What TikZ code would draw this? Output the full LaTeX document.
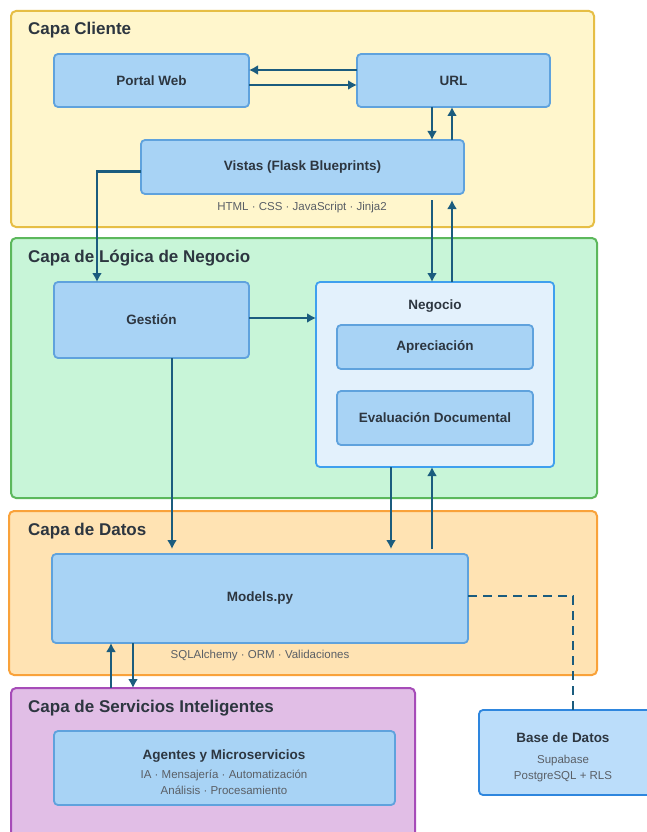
\documentclass[tikz,border=0pt]{standalone}
\usepackage{fontspec}
\setmainfont{Liberation Sans}
\usetikzlibrary{arrows.meta}

\definecolor{ink}{HTML}{2D3640}
\definecolor{muted}{HTML}{5A5F66}
\definecolor{flowc}{HTML}{1B5C7E}
\definecolor{boxfill}{HTML}{A8D3F5}
\definecolor{boxline}{HTML}{5FA2DD}
\definecolor{ylwfill}{HTML}{FFF6CC}
\definecolor{ylwline}{HTML}{E6BE45}
\definecolor{grnfill}{HTML}{C8F5D8}
\definecolor{grnline}{HTML}{5CB85C}
\definecolor{orgfill}{HTML}{FFE3B3}
\definecolor{orgline}{HTML}{F9A23A}
\definecolor{purfill}{HTML}{E1BEE6}
\definecolor{purline}{HTML}{A64CB8}
\definecolor{negfill}{HTML}{E3F1FC}
\definecolor{negline}{HTML}{3FA0EE}
\definecolor{dbfill}{HTML}{BBDDFA}
\definecolor{dbline}{HTML}{2E86DE}

\newcommand{\layerfont}{\fontsize{17}{20}\selectfont\bfseries}
\newcommand{\boxfont}{\fontsize{13.5}{16}\selectfont\bfseries}
\newcommand{\notefont}{\fontsize{11.5}{14}\selectfont}

\tikzset{
  layer/.style={line width=2pt, rounded corners=5pt, anchor=north west,
    inner sep=0pt, outer sep=0pt},
  layertitle/.style={anchor=base west, text=ink, font=\layerfont, inner sep=0pt},
  box/.style={draw=boxline, fill=boxfill, line width=1.8pt, rounded corners=4pt,
    anchor=north west, inner sep=0pt, outer sep=0pt, text=ink, font=\boxfont},
  boxlabel/.style={anchor=base, text=ink, font=\boxfont, inner sep=0pt},
  subnote/.style={anchor=base, text=muted, font=\notefont, inner sep=0pt},
  flow/.style={draw=flowc, line width=2.3pt, line join=miter,
    -{Latex[length=9pt,width=10pt]}},
  dbflow/.style={draw=flowc, line width=2.3pt, dash pattern=on 9pt off 6pt},
}

\begin{document}
\begin{tikzpicture}[x=1pt, y=-1pt]
\useasboundingbox (0,0) rectangle (646,832);
\fill[white] (0,0) rectangle (646,832);

% ---- layers ----
\node[layer, draw=ylwline, fill=ylwfill, minimum width=583pt, minimum height=216pt] (cliente) at (11,11) {};
\node[layer, draw=grnline, fill=grnfill, minimum width=586pt, minimum height=260pt] (logica) at (11,238) {};
\node[layer, draw=orgline, fill=orgfill, minimum width=588pt, minimum height=164pt] (datos) at (9,511) {};
\node[layer, draw=purline, fill=purfill, minimum width=404pt, minimum height=170pt] (servicios) at (11,688) {};

\node[layertitle] (tcliente) at (28,35) {Capa Cliente};
\node[layertitle] (tlogica) at (28,262) {Capa de Lógica de Negocio};
\node[layertitle] (tdatos) at (28,535) {Capa de Datos};
\node[layertitle] (tservicios) at (28,712) {Capa de Servicios Inteligentes};

% ---- client layer ----
\node[box, minimum width=195pt, minimum height=53pt] (portal) at (54,54) {Portal Web};
\node[box, minimum width=193pt, minimum height=53pt] (url) at (357,54) {URL};
\node[box, minimum width=323pt, minimum height=54pt] (vistas) at (141,140) {Vistas (Flask Blueprints)};
\node[subnote] (vistasnote) at (302,210) {HTML · CSS · JavaScript · Jinja2};

% ---- business logic layer ----
\node[box, minimum width=195pt, minimum height=76pt] (gestion) at (54,282) {Gestión};
\node[box, draw=negline, fill=negfill, minimum width=238pt, minimum height=185pt] (negocio) at (316,282) {};
\node[boxlabel] (negociotitle) at (435,309) {Negocio};
\node[box, minimum width=196pt, minimum height=44pt] (aprec) at (337,325) {Apreciación};
\node[box, minimum width=196pt, minimum height=54pt] (evalu) at (337,391) {Evaluación Documental};

% ---- data layer ----
\node[box, minimum width=416pt, minimum height=89pt] (models) at (52,554) {Models.py};
\node[subnote] (modelsnote) at (260,658) {SQLAlchemy · ORM · Validaciones};

% ---- intelligent services layer ----
\node[box, minimum width=341pt, minimum height=74pt] (agentes) at (54,731) {};
\node[boxlabel] (agentestitle) at (224,759) {Agentes y Microservicios};
\node[subnote] (agentesnote1) at (224,778) {IA · Mensajería · Automatización};
\node[subnote] (agentesnote2) at (224,794) {Análisis · Procesamiento};

% ---- database ----
\node[box, draw=dbline, fill=dbfill, minimum width=180pt, minimum height=85pt] (base) at (479,710) {};
\node[boxlabel] (basetitle) at (563,742) {Base de Datos};
\node[subnote] (basenote1) at (563,763) {Supabase};
\node[subnote] (basenote2) at (563,779) {PostgreSQL + RLS};

% ---- connector columns and helper points ----
\coordinate (xa) at (432,0);
\coordinate (xb) at (452,0);
\coordinate (xv) at (97,0);
\coordinate (xg) at (172,0);
\coordinate (xn) at (391,0);
\coordinate (xs1) at (111,0);
\coordinate (xs2) at (133,0);
\coordinate (xd) at (573,0);
\coordinate (vb) at ([yshift=-6pt]vistas.south);
\coordinate (mt) at ([yshift=5pt]models.north);
\coordinate (ge) at ([yshift=2pt]gestion.east);
\coordinate (ve) at ([yshift=-4.5pt]vistas.west);
\coordinate (me) at ([yshift=2.5pt]models.east);
\coordinate (pu) at ([yshift=10.5pt]url.west);
\coordinate (pd) at ([yshift=-4.5pt]portal.east);

% ---- connectors ----
\draw[flow] (pu) -- (pu -| portal.east);
\draw[flow] (pd) -- (pd -| url.west);
\draw[flow] (url.south -| xa) -- (vistas.north -| xa);
\draw[flow] (vistas.north -| xb) -- (url.south -| xb);
\draw[flow] (ve) -| (gestion.north -| xv);
\draw[flow] (vb -| xa) -- (negocio.north -| xa);
\draw[flow] (negocio.north -| xb) -- (vb -| xb);
\draw[flow] (ge) -- (ge -| negocio.west);
\draw[flow] (gestion.south -| xg) -- (mt -| xg);
\draw[flow] (negocio.south -| xn) -- (mt -| xn);
\draw[flow] (mt -| xa) -- (negocio.south -| xa);
\draw[flow] (servicios.north -| xs1) -- (models.south -| xs1);
\draw[flow] (models.south -| xs2) -- (servicios.north -| xs2);
\draw[dbflow] (me) -| (base.north -| xd);
\end{tikzpicture}
\end{document}
